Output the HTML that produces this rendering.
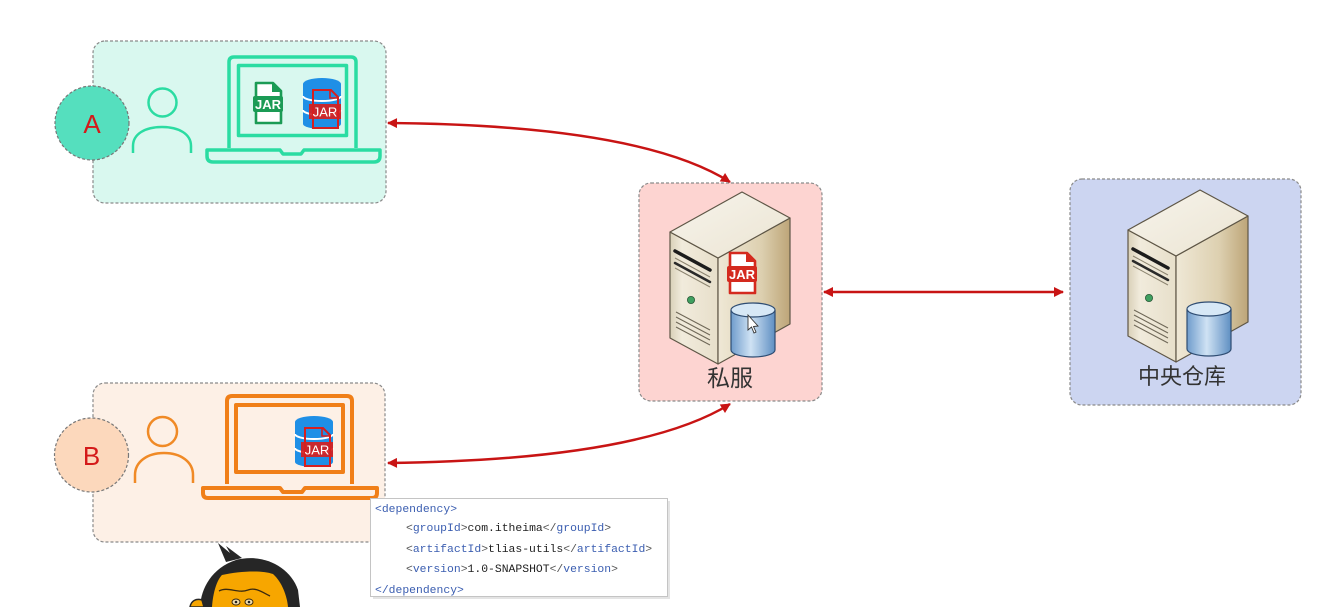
<!DOCTYPE html>
<html><head><meta charset="utf-8">
<style>
html,body{margin:0;padding:0;background:#fff;}
svg{display:block;}
</style></head>
<body>
<svg width="1339" height="607" viewBox="0 0 1339 607" xmlns="http://www.w3.org/2000/svg">
<defs>
  <marker id="ah" viewBox="0 0 10 10" refX="9" refY="5" markerWidth="4.8" markerHeight="4" orient="auto-start-reverse">
    <path d="M0,0 L10,5 L0,10 z" fill="#c81414"/>
  </marker>
  <linearGradient id="gTop" x1="0" y1="0" x2="1" y2="1">
    <stop offset="0" stop-color="#f7f4ec"/><stop offset="1" stop-color="#ebe4d2"/>
  </linearGradient>
  <linearGradient id="gFront" x1="0" y1="0" x2="1" y2="0">
    <stop offset="0" stop-color="#d9d0b8"/><stop offset="0.25" stop-color="#f1ebdc"/><stop offset="1" stop-color="#e7dfca"/>
  </linearGradient>
  <linearGradient id="gSide" x1="0" y1="0" x2="1" y2="0">
    <stop offset="0" stop-color="#efe8d6"/><stop offset="0.6" stop-color="#ddd0b0"/><stop offset="1" stop-color="#bda578"/>
  </linearGradient>
  <linearGradient id="gCyl" x1="0" y1="0" x2="1" y2="0">
    <stop offset="0" stop-color="#6f9ccc"/><stop offset="0.45" stop-color="#cfe2f4"/><stop offset="1" stop-color="#5f8fc2"/>
  </linearGradient>
  <g id="server">
    <polygon points="0,0 48,26 48,132 0,106" fill="url(#gFront)" stroke="#5e5646" stroke-width="1.2" stroke-linejoin="round"/>
    <polygon points="48,26 120,-14 120,92 48,132" fill="url(#gSide)" stroke="#5e5646" stroke-width="1.2" stroke-linejoin="round"/>
    <polygon points="0,0 72,-40 120,-14 48,26" fill="url(#gTop)" stroke="#5e5646" stroke-width="1.2" stroke-linejoin="round"/>
    <path d="M5,19 L40,38" stroke="#1c1c1c" stroke-width="3.5" stroke-linecap="round"/>
    <path d="M5,26 L40,45" stroke="#8c8470" stroke-width="1"/>
    <path d="M5,31 L40,50" stroke="#2a2a2a" stroke-width="2.5" stroke-linecap="round"/>
    <path d="M5,36 L40,55" stroke="#8c8470" stroke-width="1"/>
    <circle cx="21" cy="68" r="3.6" fill="#3fa060" stroke="#2d5a3a" stroke-width="0.8"/>
    <path d="M6,80 L40,98 M6,85 L40,103 M6,90 L40,108 M6,95 L40,113" stroke="#6f6858" stroke-width="1.1"/>
  </g>
  <g id="cyl">
    <path d="M0,7 L0,47 A22,7 0 0 0 44,47 L44,7" fill="url(#gCyl)" stroke="#2e4c72" stroke-width="1.2"/>
    <ellipse cx="22" cy="7" rx="22" ry="7" fill="#d7e8f6" stroke="#2e4c72" stroke-width="1.2"/>
  </g>
  <g id="jar">
    <path d="M3,0 L20,0 L28,8 L28,40 L3,40 Z" fill="#fff" stroke="currentColor" stroke-width="2.6" stroke-linejoin="round"/>
    <path d="M19,0 L19,9 L28,9 Z" fill="currentColor"/>
    <rect x="0" y="13" width="30" height="16" rx="2" fill="currentColor"/>
    <text x="15" y="26" font-family="Liberation Sans, sans-serif" font-weight="bold" font-size="13" fill="#fff" text-anchor="middle">JAR</text>
  </g>
  <g id="dbjar">
    <path d="M0,6 L0,46 A19,5 0 0 0 38,46 L38,6" fill="#1f8fe6"/>
    <ellipse cx="19" cy="6" rx="19" ry="6" fill="#1f8fe6"/>
    <path d="M0,18 A19,5 0 0 0 38,18 M0,32 A19,5 0 0 0 38,32" stroke="#fff" stroke-width="2" fill="none"/>
    <path d="M10,12 L28,12 L35,19 L35,50 L10,50 Z" fill="none" stroke="#d61f1f" stroke-width="2"/>
    <path d="M27,12 L27,20 L35,20" fill="none" stroke="#d61f1f" stroke-width="1.6"/>
    <rect x="6" y="26" width="32" height="15" fill="#d61f1f" opacity="0.92"/>
    <text x="22" y="38.5" font-family="Liberation Sans, sans-serif" font-size="13" fill="#fff" text-anchor="middle">JAR</text>
  </g>
</defs>

<!-- Box A -->
<rect x="93" y="41" width="293" height="162" rx="12" fill="#d9f8ef" stroke="#8a8a8a" stroke-width="1.2" stroke-dasharray="3 2"/>
<circle cx="92" cy="123" r="37" fill="#55dfbe" stroke="#777" stroke-width="1.2" stroke-dasharray="3 2"/>
<text x="92" y="133" font-family="Liberation Sans, sans-serif" font-size="26" fill="#d41a1a" text-anchor="middle">A</text>
<g fill="none" stroke="#2bdca2" stroke-width="2.5">
  <circle cx="162.5" cy="102.5" r="14"/>
  <path d="M133,153 L133,146 C133,134 145,127 162,127 C179,127 191,134 191,146 L191,153"/>
</g>
<g fill="none" stroke="#2bdca2" stroke-width="3.5" stroke-linejoin="round">
  <path d="M229,148 L229,62 Q229,57 234,57 L351,57 Q356,57 356,62 L356,148"/>
  <rect x="238.5" y="65.5" width="108" height="70"/>
  <path d="M207,150 L280,150 L283,154 L301,154 L304,150 L380,150 L380,156 Q380,162 374,162 L213,162 Q207,162 207,156 Z"/>
</g>
<use href="#jar" x="253" y="83" style="color:#1b9b55"/>
<use href="#dbjar" x="303" y="78"/>

<!-- Box B -->
<rect x="93" y="383" width="292" height="159" rx="12" fill="#fdf0e6" stroke="#8a8a8a" stroke-width="1.2" stroke-dasharray="3 2"/>
<circle cx="91.5" cy="455" r="37" fill="#fcd8bc" stroke="#777" stroke-width="1.2" stroke-dasharray="3 2"/>
<text x="91.5" y="465" font-family="Liberation Sans, sans-serif" font-size="26" fill="#d41a1a" text-anchor="middle">B</text>
<g fill="none" stroke="#f08a26" stroke-width="2.5">
  <circle cx="162.5" cy="431.5" r="14.5"/>
  <path d="M135,483 L135,475 C135,462 147,453 164,453 C181,453 193,462 193,475 L193,483"/>
</g>
<g fill="none" stroke="#f07f18" stroke-width="4" stroke-linejoin="round">
  <path d="M227,484 L227,401 Q227,396 232,396 L347,396 Q352,396 352,401 L352,484"/>
  <rect x="236" y="405" width="107" height="67"/>
  <path d="M203,488 L280,488 L283,492 L302,492 L305,488 L377,488 L377,493 Q377,498 372,498 L208,498 Q203,498 203,493 Z"/>
</g>
<use href="#dbjar" x="295" y="416"/>

<!-- Private server -->
<rect x="639" y="183" width="183" height="218" rx="12" fill="#fdd4d1" stroke="#8a8a8a" stroke-width="1.2" stroke-dasharray="3 2"/>
<use href="#server" x="670" y="232"/>
<use href="#jar" x="727" y="253" style="color:#d42a1e"/>
<use href="#cyl" x="731" y="303"/>
<path d="M748,315 L748,330 L751.5,327 L754,333 L756,332 L753.5,326.5 L758,326 Z" fill="#fff" stroke="#333" stroke-width="0.9"/>
<text x="730" y="386" font-family="Liberation Sans, 'Noto Sans CJK SC', sans-serif" font-size="23" fill="#333" text-anchor="middle">私服</text>

<!-- Central repo -->
<rect x="1070" y="179" width="231" height="226" rx="12" fill="#ccd5f1" stroke="#8a8a8a" stroke-width="1.2" stroke-dasharray="3 2"/>
<use href="#server" x="1128" y="230"/>
<use href="#cyl" x="1187" y="302"/>
<text x="1182" y="384" font-family="Liberation Sans, 'Noto Sans CJK SC', sans-serif" font-size="22" fill="#333" text-anchor="middle">中央仓库</text>

<!-- Arrows -->
<g fill="none" stroke="#c81414" stroke-width="2.5" marker-start="url(#ah)" marker-end="url(#ah)">
  <path d="M388,123 Q640,125 730,182"/>
  <path d="M388,463 Q640,460 730,404"/>
  <path d="M824,292 L1063,292"/>
</g>

<!-- Code box -->
<rect x="373" y="501" width="297" height="98" fill="#e4e4e4"/>
<rect x="370.5" y="498.5" width="297" height="98" fill="#fff" stroke="#c4c4c4" stroke-width="1"/>
<g font-family="'Liberation Mono', monospace" font-size="11.4" fill="#222">
  <text x="375" y="512"><tspan fill="#3a5db0">&lt;dependency&gt;</tspan></text>
  <text x="406" y="531"><tspan fill="#555">&lt;</tspan><tspan fill="#3a5db0">groupId</tspan><tspan fill="#555">&gt;</tspan>com.itheima<tspan fill="#555">&lt;/</tspan><tspan fill="#3a5db0">groupId</tspan><tspan fill="#555">&gt;</tspan></text>
  <text x="406" y="552"><tspan fill="#555">&lt;</tspan><tspan fill="#3a5db0">artifactId</tspan><tspan fill="#555">&gt;</tspan>tlias-utils<tspan fill="#555">&lt;/</tspan><tspan fill="#3a5db0">artifactId</tspan><tspan fill="#555">&gt;</tspan></text>
  <text x="406" y="572"><tspan fill="#555">&lt;</tspan><tspan fill="#3a5db0">version</tspan><tspan fill="#555">&gt;</tspan>1.0-SNAPSHOT<tspan fill="#555">&lt;/</tspan><tspan fill="#3a5db0">version</tspan><tspan fill="#555">&gt;</tspan></text>
  <text x="375" y="593"><tspan fill="#3a5db0">&lt;/dependency&gt;</tspan></text>
</g>

<!-- Cartoon -->
<path d="M200,607 C201,588 212,568 236,560 C262,553 290,566 298,590 L300,607 Z" fill="#262626"/>
<path d="M226,562 L218,543 L230,553 L226,546 L242,558 Z" fill="#262626"/>
<path d="M212,607 C213,592 217,580 222,575 C240,571 262,570 273,574 C282,582 287,596 288,607 Z" fill="#f7a600"/>
<path d="M219,591 C228,586 238,594 248,590 C255,587 262,592 270,596" fill="none" stroke="#3a2a10" stroke-width="1.3"/>
<ellipse cx="236" cy="602" rx="4" ry="3" fill="#f4e0b0" stroke="#3a2a10" stroke-width="1"/>
<ellipse cx="249" cy="602" rx="4" ry="3" fill="#f4e0b0" stroke="#3a2a10" stroke-width="1"/>
<circle cx="236" cy="602" r="1.3" fill="#222"/>
<circle cx="249" cy="602" r="1.3" fill="#222"/>
<path d="M190,607 C191,601 196,598 202,600 L204,607 Z" fill="#f7a600" stroke="#262626" stroke-width="1.5"/>
</svg>
</body></html>
